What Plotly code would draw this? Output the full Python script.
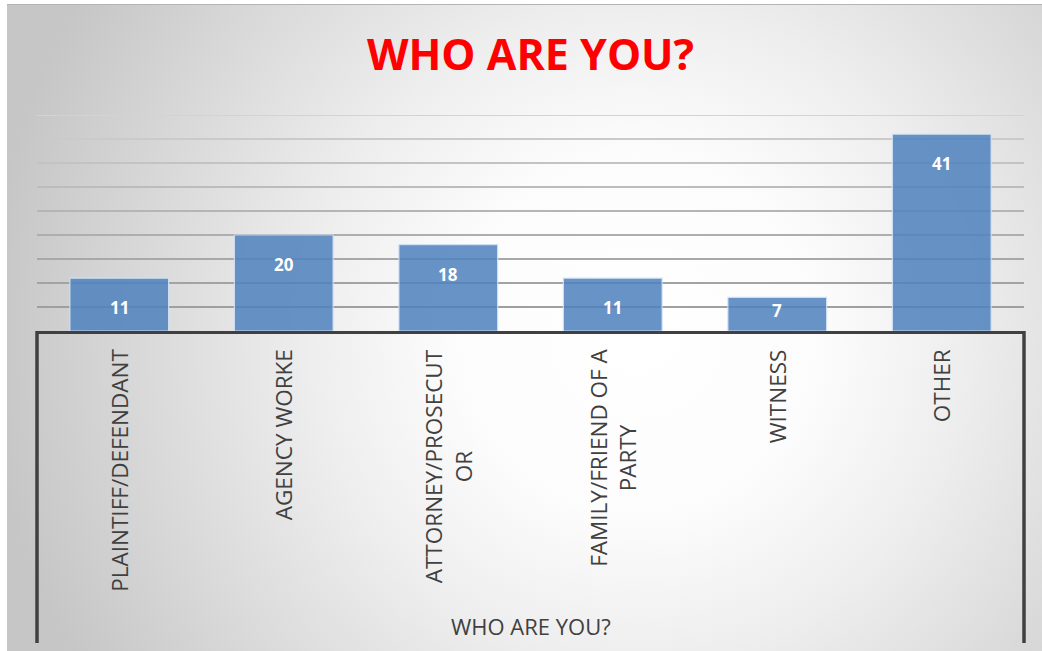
import base64
import plotly.graph_objects as go

# ---- data -------------------------------------------------------------
categories = ["PLAINTIFF/DEFENDANT", "AGENCY WORKE", "ATTORNEY/PROSECUTOR",
              "FAMILY/FRIEND OF A PARTY", "WITNESS", "OTHER"]
tick_labels = ["PLAINTIFF/DEFENDANT", "AGENCY WORKE", "ATTORNEY/PROSECUT<br>OR",
               "FAMILY/FRIEND OF A<br>PARTY", "WITNESS", "OTHER"]
counts = [11, 20, 18, 11, 7, 41]
grid_levels = [5, 10, 15, 20, 25, 30, 35, 40, 45]

# ---- page geometry (pixels) ------------------------------------------
W, H = 1042, 651
PLOT_L, PLOT_R = 37, 1024
PLOT_T, PLOT_B = 115, 331
BOX_BOTTOM = 643
FRAME_X, FRAME_Y = 7, 4
plot_w = PLOT_R - PLOT_L
plot_h = PLOT_B - PLOT_T


def px_to_paper_y(py):
    return (PLOT_B - py) / plot_h


def px_to_paper_x(px):
    return (px - PLOT_L) / plot_w


# ---- radial grey background as an inline SVG -------------------------
bg_w, bg_h = W - FRAME_X, H - FRAME_Y
svg = f"""<svg xmlns='http://www.w3.org/2000/svg' width='{bg_w}' height='{bg_h}'>
<defs><radialGradient id='g' gradientUnits='userSpaceOnUse' cx='630' cy='330' r='650'>
<stop offset='0' stop-color='#ffffff'/>
<stop offset='0.28' stop-color='#fcfcfc'/>
<stop offset='0.5' stop-color='#eeeeee'/>
<stop offset='0.75' stop-color='#dadada'/>
<stop offset='1' stop-color='#c6c6c6'/>
</radialGradient></defs>
<rect x='0' y='0' width='{bg_w}' height='{bg_h}' fill='url(#g)'/>
<line x1='0' y1='0.5' x2='{bg_w}' y2='0.5' stroke='#b4b4b4' stroke-width='1'/>
</svg>"""
bg_uri = "data:image/svg+xml;base64," + base64.b64encode(svg.encode()).decode()

fig = go.Figure()

fig.add_trace(go.Bar(
    x=categories,
    y=counts,
    width=0.6,
    marker=dict(color="rgba(79,129,189,0.86)",
                line=dict(color="rgba(210,225,245,0.9)", width=1.2)),
    hoverinfo="skip",
))

# horizontal gridlines, lighter towards the top
grid_colors = ["#9f9f9f", "#a3a3a3", "#a8a8a8", "#aeaeae", "#b5b5b5",
               "#bcbcbc", "#c3c3c3", "#cacaca", "#d3d3d3"]
shapes = []
for lvl, col in zip(grid_levels, grid_colors):
    shapes.append(dict(type="line", xref="paper", yref="y", x0=0, x1=1,
                       y0=lvl, y1=lvl, layer="below",
                       line=dict(color=col, width=2)))

# side rules framing the category label area
for xp in (0, 1):
    shapes.append(dict(type="line", xref="paper", yref="paper",
                       x0=xp, x1=xp, y0=0, y1=px_to_paper_y(BOX_BOTTOM),
                       line=dict(color="#404040", width=3.5)))

annotations = []
# value labels inside the bars, near the top end
for cat, v in zip(categories, counts):
    label_y = max(v - 6.2, 4.2)
    annotations.append(dict(x=cat, y=label_y, xref="x", yref="y", text=str(v),
                            showarrow=False, yanchor="middle",
                            font=dict(family="Open Sans", size=17, color="white",
                                      weight=700)))

# rotated category labels hanging below the axis
for cat, lab in zip(categories, tick_labels):
    annotations.append(dict(x=cat, y=0, xref="x", yref="paper", text=lab,
                            showarrow=False, textangle=-90, align="center",
                            xanchor="center", yanchor="top", yshift=-16,
                            font=dict(family="Open Sans", size=22.5, color="#404040")))

# axis title
annotations.append(dict(x=0.5, y=px_to_paper_y(626), xref="paper", yref="paper",
                        text="WHO ARE YOU?", showarrow=False, yanchor="middle",
                        font=dict(family="Open Sans", size=22, color="#404040")))

fig.update_layout(
    width=W, height=H,
    margin=dict(l=PLOT_L, r=W - PLOT_R, t=PLOT_T, b=H - PLOT_B, pad=0),
    paper_bgcolor="white",
    plot_bgcolor="rgba(0,0,0,0)",
    showlegend=False,
    bargap=0.4,
    title=dict(text="WHO ARE YOU?", x=0.5, xref="paper", xanchor="center",
               y=1 - 55 / H, yanchor="middle",
               font=dict(family="Open Sans", size=43, color="#ff0000", weight=700)),
    xaxis=dict(range=[-0.5, len(categories) - 0.5], showticklabels=False,
               showgrid=False, zeroline=False, showline=True,
               linecolor="#404040", linewidth=3, ticks=""),
    yaxis=dict(range=[0, 45], showticklabels=False, showgrid=False,
               zeroline=False, showline=False, ticks=""),
    shapes=shapes,
    annotations=annotations,
    images=[dict(source=bg_uri, xref="paper", yref="paper",
                 x=px_to_paper_x(FRAME_X), y=px_to_paper_y(FRAME_Y),
                 sizex=bg_w / plot_w, sizey=bg_h / plot_h,
                 xanchor="left", yanchor="top", sizing="stretch", layer="below")],
)

fig.write_html("out.html")
